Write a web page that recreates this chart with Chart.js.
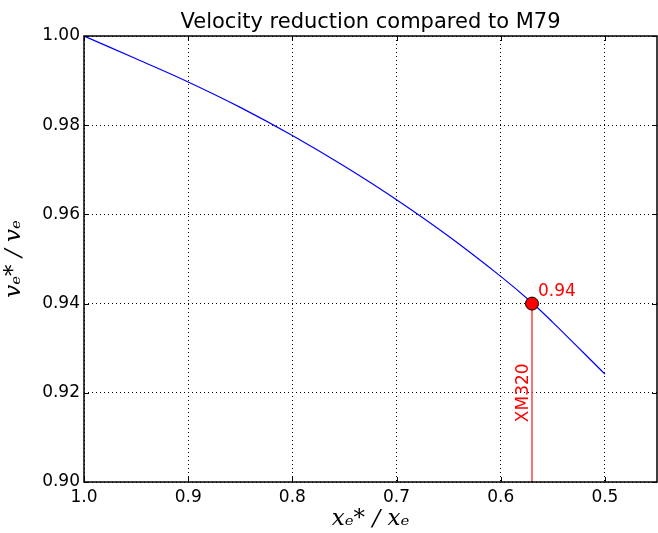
<!DOCTYPE html>
<html lang="en">
<head>
  <meta charset="UTF-8"/>
  <title>Velocity reduction compared to M79</title>
  <script src="https://cdn.jsdelivr.net/npm/chart.js"></script>
  <style>
    html, body { margin: 0; padding: 0; background: #fff; }
    #wrap { width: 658px; height: 533px; }
  </style>
</head>
<body>
<div id="wrap"><canvas id="velChart" width="658" height="533"></canvas></div>
<script>
  // x*/x values and the read-off velocity ratio v*/v
  const ratioX = [1.0, 0.95, 0.9, 0.85, 0.8, 0.75, 0.7, 0.65, 0.6, 0.57, 0.55, 0.5];
  const velocityRatio = [1.0, 0.9949, 0.9897, 0.9840, 0.9777, 0.9708, 0.9633, 0.9551, 0.9461, 0.9402, 0.9358, 0.9242];
  const xTicks = [1.0, 0.9, 0.8, 0.7, 0.6, 0.5];
  const yTicks = [0.90, 0.92, 0.94, 0.96, 0.98, 1.00];
  const markerX = 0.57;
  const markerY = 0.94;
  const markerName = 'XM320';
  const chartTitle = 'Velocity reduction compared to M79';

  const curve = ratioX.map((x, i) => ({ x: x, y: velocityRatio[i] }));

  // frame, inward ticks, title and annotations
  const framePlugin = {
    id: 'frame',
    afterDraw(chart) {
      const { ctx, chartArea: a, scales } = chart;
      const xs = scales.x, ys = scales.y;
      ctx.save();
      ctx.strokeStyle = '#000';
      ctx.lineWidth = 1.5;
      ctx.strokeRect(a.left, a.top, a.right - a.left, a.bottom - a.top);
      ctx.lineWidth = 1;
      ctx.beginPath();
      xTicks.forEach(v => {
        const px = Math.round(xs.getPixelForValue(v)) + 0.5;
        ctx.moveTo(px, a.bottom); ctx.lineTo(px, a.bottom - 5);
        ctx.moveTo(px, a.top); ctx.lineTo(px, a.top + 5);
      });
      yTicks.forEach(v => {
        const py = Math.round(ys.getPixelForValue(v)) + 0.5;
        ctx.moveTo(a.left, py); ctx.lineTo(a.left + 5, py);
        ctx.moveTo(a.right, py); ctx.lineTo(a.right - 5, py);
      });
      ctx.stroke();

      ctx.fillStyle = '#000';
      ctx.font = '21px "DejaVu Sans"';
      ctx.textAlign = 'center';
      ctx.textBaseline = 'alphabetic';
      ctx.fillText(chartTitle, (a.left + a.right) / 2, 28);

      const mx = xs.getPixelForValue(markerX);
      const my = ys.getPixelForValue(markerY);
      ctx.fillStyle = '#ff0000';
      ctx.font = '17px "DejaVu Sans"';
      ctx.textAlign = 'left';
      ctx.fillText(markerY.toFixed(2), mx + 6, my - 8);

      ctx.translate(mx - 8, ys.getPixelForValue(0.9200));
      ctx.rotate(-Math.PI / 2);
      ctx.textAlign = 'center';
      ctx.textBaseline = 'middle';
      ctx.fillText(markerName, 0, 0);
      ctx.restore();
    }
  };

  new Chart(document.getElementById('velChart'), {
    type: 'scatter',
    data: {
      datasets: [
        {
          data: [{ x: markerX, y: 0.90 }, { x: markerX, y: markerY }],
          showLine: true,
          borderColor: '#ff4040',
          borderWidth: 1.5,
          pointRadius: 0,
          order: 2
        },
        {
          data: curve,
          showLine: true,
          borderColor: '#0000ff',
          borderWidth: 1.2,
          pointRadius: 0,
          tension: 0.4,
          order: 1
        },
        {
          data: [{ x: markerX, y: markerY }],
          backgroundColor: '#ff0000',
          borderColor: '#000',
          borderWidth: 1,
          pointRadius: 6.5,
          order: 0
        }
      ]
    },
    options: {
      responsive: false,
      animation: false,
      layout: { autoPadding: false, padding: { top: 36, right: 1, left: 0, bottom: 0 } },
      plugins: {
        legend: { display: false },
        tooltip: { enabled: false },
        title: { display: false }
      },
      scales: {
        x: {
          type: 'linear',
          reverse: true,
          min: 0.45,
          max: 1.0,
          afterBuildTicks: s => { s.ticks = xTicks.map(v => ({ value: v })); },
          afterFit: s => { s.height = 51; s.paddingLeft = 0; s.paddingRight = 0; },
          grid: { color: '#000', drawTicks: false, lineWidth: 1 },
          border: { display: false, dash: [1, 3] },
          ticks: {
            color: '#000',
            padding: 5,
            maxRotation: 0,
            font: { family: 'DejaVu Sans', size: 17 },
            callback: v => Number(v).toFixed(1)
          },
          title: {
            display: true,
            text: 'x\u2091* / x\u2091',
            color: '#000',
            font: { family: 'DejaVu Serif', size: 23, style: 'italic' },
            padding: { top: 0, bottom: 0 }
          }
        },
        y: {
          type: 'linear',
          min: 0.90,
          max: 1.00,
          afterBuildTicks: s => { s.ticks = yTicks.map(v => ({ value: v })); },
          afterFit: s => { s.width = 84; s.paddingTop = 0; s.paddingBottom = 0; },
          grid: { color: '#000', drawTicks: false, lineWidth: 1 },
          border: { display: false, dash: [1, 3] },
          ticks: {
            color: '#000',
            padding: 4,
            font: { family: 'DejaVu Sans', size: 17 },
            callback: v => Number(v).toFixed(2)
          },
          title: {
            display: true,
            text: 'v\u2091* / v\u2091',
            color: '#000',
            font: { family: 'DejaVu Serif', size: 23, style: 'italic' },
            padding: { top: 0, bottom: 4 }
          }
        }
      }
    },
    plugins: [framePlugin]
  });
</script>
</body>
</html>
